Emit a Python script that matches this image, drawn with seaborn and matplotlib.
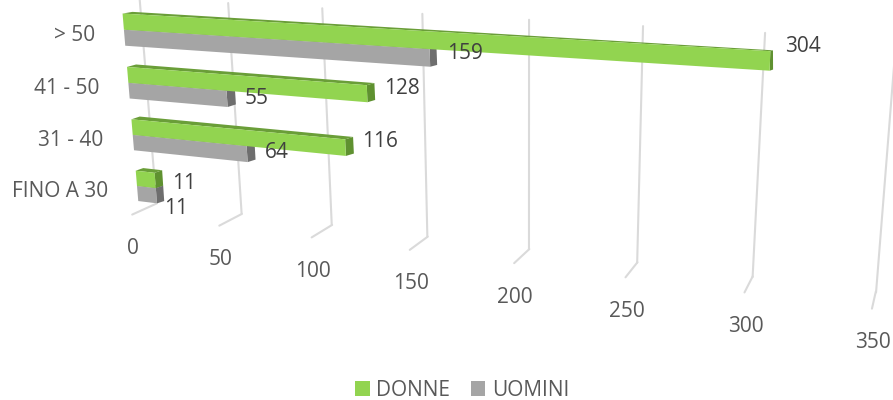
import matplotlib
matplotlib.use("Agg")
import matplotlib.pyplot as plt
import matplotlib.transforms as mtransforms
import numpy as np
import pandas as pd
import seaborn as sns
from matplotlib.patches import Polygon

categories = ["> 50", "41 - 50", "31 - 40", "FINO A 30"]
donne = [304, 128, 116, 11]
uomini = [159, 55, 64, 11]
ticks = [0, 50, 100, 150, 200, 250, 300, 350]

GREEN, GREEN_SIDE, GREEN_TOP = "#92D450", "#5F9130", "#6A9E38"
GRAY, GRAY_SIDE = "#A5A5A5", "#6E6E6E"
GRID = "#DADADA"

# camera anchors: (value, y in chart units, px, py)
FRONT = [(0, -.3, 123, 14), (0, 0, 124, 30), (0, .3, 125, 44), (0, .7, 127, 68), (0, 1, 128, 83),
         (0, 1.3, 129, 98), (0, 1.7, 132, 120), (0, 2, 133, 136), (0, 2.3, 134, 150), (0, 2.7, 136, 172),
         (0, 3, 137, 187), (0, 3.3, 138, 200), (304, -.3, 770, 52), (304, 0, 770, 71), (159, .3, 430, 66),
         (128, .7, 367, 84), (128, 1, 367, 102), (55, 1.3, 227, 106), (116, 1.7, 346, 140), (116, 2, 346, 156),
         (64, 2.3, 247, 162), (11, 2.7, 156, 173), (11, 3, 156, 188), (11, 3.3, 156, 202)]
BACK = [(0, -.3, 133, 12), (11, 2.7, 164, 170), (11, 3.3, 166, 200), (128, .7, 375, 83), (116, 1.7, 353, 138),
        (159, .3, 437, 64), (304, -.3, 773, 51), (304, 0, 773, 69), (55, 1.3, 235, 104), (64, 2.3, 255, 160),
        (0, 2.7, 140, 169)]
WALL = [(0, 0, 157, 203), (50, 0, 241, 213), (100, 0, 332, 225), (150, 0, 427, 237), (200, 0, 529, 249),
        (250, 0, 637, 263), (300, 0, 753, 277), (350, 0, 876, 292), (50, 1, 228, 3), (100, 1, 322, 8),
        (150, 1, 423, 14), (200, 1, 529, 20), (250, 1, 643, 26), (300, 1, 765, 33), (350, 1, 896, 40)]
FLOOR = [(0, 0, 132, 215), (50, 0, 219, 226), (100, 0, 312, 237), (150, 0, 410, 250), (200, 0, 514, 263),
         (250, 0, 626, 277), (300, 0, 744, 293), (350, 0, 872, 308), (0, 1, 157, 203), (100, 1, 332, 225),
         (200, 1, 529, 249), (350, 1, 876, 292)]
# label offsets from bar ends, in pixels
OFF_DONNE = [(15, -14), (17, -5), (17, -6), (17, 3)]
OFF_UOMINI = [(17, -4), (18, 0), (18, -2), (8, 13)]


class Homography(mtransforms.Transform):
    input_dims = output_dims = 2
    is_separable = False
    has_inverse = False

    def __init__(self, anchors):
        super().__init__()
        rows = []
        for v, y, px, py in anchors:
            v, px, py = v / 100, px / 100, py / 100
            rows.append([v, y, 1, 0, 0, 0, -px * v, -px * y, -px])
            rows.append([0, 0, 0, v, y, 1, -py * v, -py * y, -py])
        self.h = np.linalg.svd(np.array(rows))[2][-1].reshape(3, 3)

    def transform_non_affine(self, values):
        values = np.asarray(values, dtype=float)
        pts = np.column_stack([values[:, 0] / 100, values[:, 1], np.ones(len(values))]) @ self.h.T
        return pts[:, :2] / pts[:, 2:] * 100


flip = mtransforms.Affine2D().scale(1, -1).translate(0, 400)
front, back = Homography(FRONT), Homography(BACK)
wall, floor = Homography(WALL), Homography(FLOOR)

df = pd.DataFrame({
    "fascia": categories * 2,
    "valore": donne + uomini,
    "sesso": ["DONNE"] * 4 + ["UOMINI"] * 4,
})

sns.set_theme(style="white")
plt.rcParams["font.family"] = ["Open Sans", "DejaVu Sans"]
plt.rcParams["patch.linewidth"] = 0

fig = plt.figure(figsize=(8.93, 4), dpi=100)
ax = fig.add_axes([0, 0, 1, 1])
sns.barplot(data=df, y="fascia", x="valore", hue="sesso", order=categories, hue_order=["DONNE", "UOMINI"],
            palette={"DONNE": GREEN, "UOMINI": GRAY}, saturation=1, width=0.6, orient="h", linewidth=0, ax=ax)

for t in ticks:
    ax.plot([t, t], [0, 1], color=GRID, lw=1.5, zorder=1, transform=wall + flip, clip_on=False)
    ax.plot([t, t], [0, 1], color=GRID, lw=1.5, zorder=1, transform=floor + flip, clip_on=False)
    ax.text(t, 0, str(t), color="#595959", fontsize=15, ha="center", va="center", zorder=4,
            transform=floor + flip + mtransforms.Affine2D().translate(1, -34))


def add_face(pts, color, z):
    ax.add_patch(Polygon(pts, closed=True, facecolor=color, edgecolor="none", linewidth=0, zorder=z,
                         transform=flip, clip_on=False))


for container, side, top, z, offs in [(ax.containers[1], GRAY_SIDE, GRAY_SIDE, 2, OFF_UOMINI),
                                      (ax.containers[0], GREEN_SIDE, GREEN_TOP, 3, OFF_DONNE)]:
    for bar, (dx, dy) in zip(container, offs):
        v, y0, y1 = bar.get_width(), bar.get_y(), bar.get_y() + bar.get_height()
        f = front.transform(np.array([[0, y0], [v, y0], [v, y1]]))
        b = back.transform(np.array([[0, y0], [v, y0], [v, y1]]))
        add_face([f[1], b[1], b[2], f[2]], side, z)
        add_face([f[0], b[0], b[1], f[1]], top, z)
        bar.set_transform(front + flip)
        bar.set_zorder(z + 0.5)
        bar.set_clip_on(False)
        ax.text(v, (y0 + y1) / 2, str(int(v)), color="#404040", fontsize=15, ha="left", va="center", zorder=5,
                transform=front + flip + mtransforms.Affine2D().translate(dx, -dy))

for i, cat in enumerate(categories):
    ax.text(0, i, cat, color="#595959", fontsize=15, ha="right", va="center", zorder=4,
            transform=front + flip + mtransforms.Affine2D().translate(-29, -5.5))

ax.set_axis_off()
ax.legend(loc="lower left", bbox_to_anchor=(351 / 893, -0.012), ncol=2, frameon=False, fontsize=15,
          labelcolor="#595959", handlelength=0.7, handleheight=0.7, handletextpad=0.3, columnspacing=1.0,
          borderpad=0.2, borderaxespad=0, title=None)

fig.savefig("out.png", dpi=100)
